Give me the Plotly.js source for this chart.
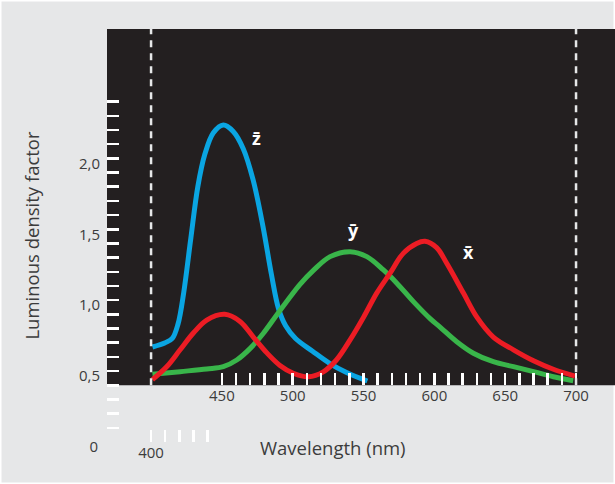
<!DOCTYPE html>
<html>
<head>
<meta charset="utf-8">
<script src="https://cdn.plot.ly/plotly-3.0.1.min.js"></script>
<style>html,body{margin:0;padding:0;background:#e6e7e8;}</style>
</head>
<body>
<div id="chart" style="width:615px;height:484px;"></div>
<script>
// z-bar (blue)
const zbarX = [401, 410, 415, 419, 423, 428, 433, 438, 444, 451, 458, 465, 472, 479, 485, 490, 495, 502, 514, 526, 538, 552.7];
const zbarY = [0.67, 0.70, 0.73, 0.83, 1.05, 1.43, 1.80, 2.03, 2.18, 2.235, 2.19, 2.07, 1.85, 1.52, 1.18, 0.94, 0.82, 0.73, 0.64, 0.555, 0.49, 0.43];
// x-bar (red)
const xbarX = [401, 411, 420.5, 430, 439.3, 452, 462.8, 472.2, 481.6, 491, 500.4, 511, 521.6, 531, 540.5, 550, 559.3, 568.7, 578, 587.5, 593.4, 601.6, 608.7, 620.5, 630, 641.6, 655.8, 670, 684, 699.3];
const xbarY = [0.44, 0.53, 0.65, 0.77, 0.86, 0.90, 0.85, 0.74, 0.63, 0.54, 0.485, 0.46, 0.495, 0.58, 0.72, 0.88, 1.05, 1.19, 1.33, 1.40, 1.415, 1.37, 1.26, 1.05, 0.88, 0.74, 0.65, 0.573, 0.513, 0.465];
// y-bar (green)
const ybarX = [401, 420.5, 439.3, 451, 460.5, 470, 479.3, 488.7, 498, 505, 514.6, 526.4, 540.5, 552.3, 564, 573.5, 585.2, 597, 604, 615.8, 627.5, 641.6, 655.8, 670, 684, 698];
const ybarY = [0.477, 0.496, 0.515, 0.531, 0.578, 0.66, 0.767, 0.896, 1.02, 1.11, 1.21, 1.307, 1.342, 1.307, 1.213, 1.12, 0.99, 0.87, 0.81, 0.707, 0.626, 0.566, 0.531, 0.496, 0.46, 0.432];

// curve labels
const labelTexts = ['z\u0304', 'y\u0304', 'x\u0304'];
const labelX = [474.6, 542.8, 624];
const labelY = [2.14, 1.495, 1.342];

// axes
const xTickVals = [450, 460, 470, 480, 490, 500, 510, 520, 530, 540, 550, 560, 570, 580, 590, 600, 610, 620, 630, 640, 650, 660, 670, 680, 690, 700];
const xTickText = ['450', '', '', '', '', '500', '', '', '', '', '550', '', '', '', '', '600', '', '', '', '', '650', '', '', '', '', '700'];
const xLowTickVals = [400, 410, 420, 430, 440];
const xLowTickText = ['400', '', '', '', ''];
const yTickVals = [0.1, 0.2, 0.3, 0.4, 0.5, 0.6, 0.7, 0.8, 0.9, 1.0, 1.1, 1.2, 1.3, 1.4, 1.5, 1.6, 1.7, 1.8, 1.9, 2.0, 2.1, 2.2, 2.3, 2.4];
const yTickText = ['', '', '', '', '0,5', '', '', '', '', '1,0', '', '', '', '', '1,5', '', '', '', '', '2,0', '', '', '', ''];
const yZeroVals = [0];
const yZeroText = ['0'];
const boundaryWavelengths = [400, 700];

const xRange = [368.9, 727.5];
const yRange = [0, 2.912];
const darkBottom = 0.4;

const font = '"Open Sans", Lato, sans-serif';
const textColor = '#3c3c3c';

const lineStyle = c => ({color: c, width: 5, shape: 'spline', smoothing: 1});
const traces = [
  {x: zbarX, y: zbarY, type: 'scatter', mode: 'lines', line: lineStyle('#0aa5e2'), hoverinfo: 'skip'},
  {x: xbarX, y: xbarY, type: 'scatter', mode: 'lines', line: lineStyle('#ec1c24'), xaxis: 'x2', yaxis: 'y2', hoverinfo: 'skip'},
  {x: ybarX, y: ybarY, type: 'scatter', mode: 'lines', line: lineStyle('#39b54a'), hoverinfo: 'skip'}
];

const W = 615, H = 484, ML = 107, MR = 0, MT = 29, MB = 42;
const PW = W - ML - MR, PH = H - MT - MB;

const shapes = [
  {type: 'rect', xref: 'paper', yref: 'paper', x0: -ML / PW, x1: 1 + MR / PW, y0: -MB / PH, y1: 1 + MT / PH,
   line: {color: '#ffffff', width: 3}, fillcolor: 'rgba(0,0,0,0)', layer: 'below'},
  {type: 'rect', xref: 'paper', yref: 'y', x0: 0, x1: 1, y0: darkBottom, y1: yRange[1], fillcolor: '#231f20', line: {width: 0}, layer: 'below'}
];
boundaryWavelengths.forEach(w => shapes.push({
  type: 'line', xref: 'x', yref: 'y', x0: w, x1: w, y0: darkBottom, y1: yRange[1],
  line: {color: '#e6e7e8', width: 2.5, dash: '7px,6px'}, layer: 'above'
}));

const annotations = labelTexts.map((t, i) => ({
  x: labelX[i], y: labelY[i], xref: 'x', yref: 'y', text: t, showarrow: false,
  font: {family: font, size: 18, color: '#ffffff', weight: 700}
}));
annotations.push({
  x: (333 - ML) / PW, y: -(448 - (H - MB)) / PH, xref: 'paper', yref: 'paper',
  text: 'Wavelength (nm)', showarrow: false, yanchor: 'middle',
  font: {family: font, size: 18.5, color: textColor}
});

const layout = {
  width: W, height: H,
  margin: {l: ML, r: MR, t: MT, b: MB, pad: 0},
  paper_bgcolor: '#e6e7e8',
  plot_bgcolor: 'rgba(0,0,0,0)',
  showlegend: false,
  font: {family: font, size: 15, color: textColor},
  xaxis: {
    range: xRange, tickmode: 'array', tickvals: xTickVals, ticktext: xTickText,
    ticks: 'inside', ticklen: 12, tickwidth: 2.5, tickcolor: '#ffffff',
    showgrid: false, zeroline: false, showline: false,
    anchor: 'free', position: darkBottom / yRange[1],
    tickfont: {family: font, size: 15, color: textColor}
  },
  xaxis2: {
    range: xRange, overlaying: 'x', anchor: 'y', side: 'bottom',
    tickmode: 'array', tickvals: xLowTickVals, ticktext: xLowTickText,
    ticks: 'inside', ticklen: 12, tickwidth: 2.5, tickcolor: '#ffffff',
    showgrid: false, zeroline: false, showline: false,
    tickfont: {family: font, size: 15, color: textColor}
  },
  yaxis: {
    range: yRange, tickmode: 'array', tickvals: yTickVals, ticktext: yTickText,
    ticks: 'inside', ticklen: 12, tickwidth: 2.5, tickcolor: '#ffffff',
    showgrid: false, zeroline: false, showline: false,
    ticklabelstandoff: 6, ticklabelshift: 5,
    tickfont: {family: font, size: 15, color: textColor},
    title: {text: 'Luminous density factor', font: {family: font, size: 18.5, color: textColor}, standoff: 34}
  },
  yaxis2: {
    range: yRange, overlaying: 'y', anchor: 'x', side: 'left',
    tickmode: 'array', tickvals: yZeroVals, ticktext: yZeroText,
    ticks: '', showgrid: false, zeroline: false, showline: false,
    ticklabelstandoff: 8, ticklabelshift: 5,
    tickfont: {family: font, size: 15, color: textColor}
  },
  shapes: shapes,
  annotations: annotations
};

Plotly.newPlot('chart', traces, layout, {displayModeBar: false, staticPlot: true});
</script>
</body>
</html>
